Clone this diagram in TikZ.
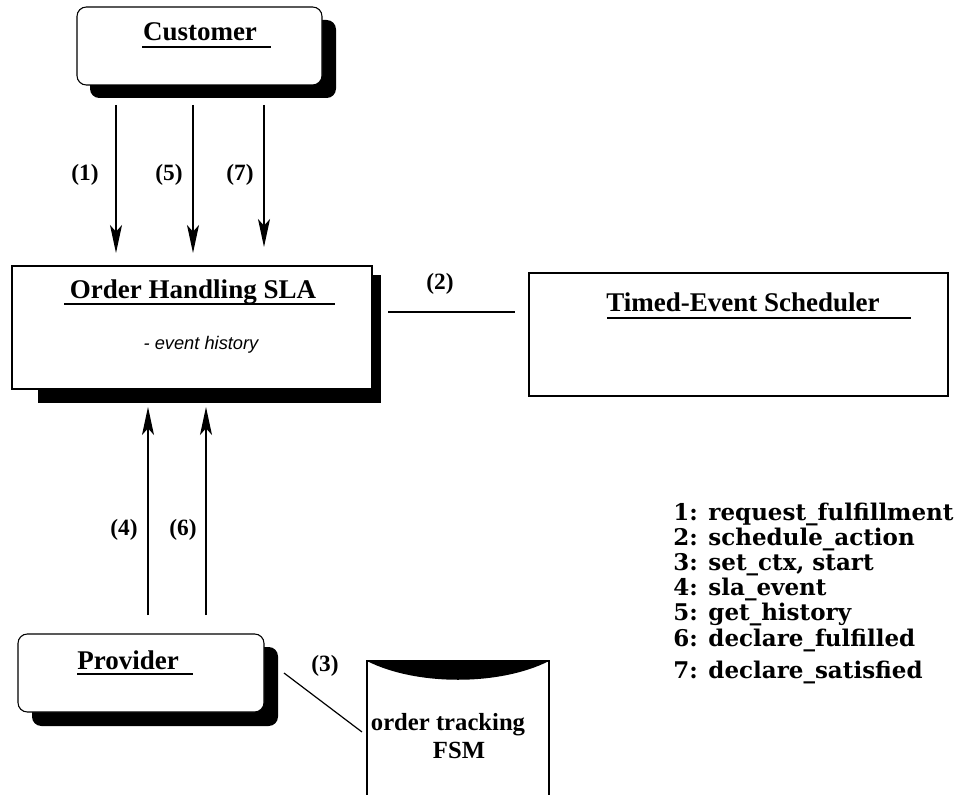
\documentclass[tikz,border=0pt]{standalone}
\usepackage{fontspec}
\setmainfont{Liberation Serif}
\newfontfamily\legfont{DejaVu Serif}
\newfontfamily\helv{Liberation Sans}
\usetikzlibrary{arrows.meta}
\begin{document}
\begin{tikzpicture}[x=0.75pt,y=-0.75pt,
  ttl/.style={font=\fontsize{20.25}{24}\selectfont\bfseries, inner sep=0pt},
  lbl/.style={font=\fontsize{17.5}{20}\selectfont\bfseries, inner sep=0pt},
  leg/.style={font=\legfont\fontsize{17.25}{20}\selectfont\bfseries, inner sep=0pt, anchor=base west},
  arr/.style={line width=0.9pt, -{Stealth[length=21pt,width=9pt,inset=5pt]}},
  ln/.style={line width=0.9pt},
  uline/.style={line width=1.1pt},
  box/.style={draw, line width=0.8pt, fill=white, inner sep=0pt},
]
\useasboundingbox (0,0) rectangle (964,795);

% Customer
\fill[rounded corners=7pt] (90,20) rectangle (336,98);
\node[box, rounded corners=7pt, minimum width=183.75pt, minimum height=58.5pt] (cust) at (199.5,46) {};
\node[ttl] (custt) at (200,32) {Customer};
\draw[uline] (142,47) -- (271,47);

% Order Handling SLA
\fill (38,275) rectangle (381,403);
\node[box, minimum width=270pt, minimum height=92.25pt] (sla) at (192,327.5) {};
\node[ttl] (slat) at (193,292) {Order Handling SLA};
\draw[uline] (64,304) -- (335,304);
\node[inner sep=0pt, font=\helv\itshape\fontsize{13.7}{16}\selectfont] (hist) at (201,345) {- event history};

% Timed-Event Scheduler
\node[box, minimum width=314.25pt, minimum height=92.25pt] (tes) at (738.5,334.5) {};
\node[ttl] (test) at (743,302) {Timed-Event Scheduler};
\draw[uline] (607,318) -- (911,318);

% Provider
\fill[rounded corners=7pt] (32,647) rectangle (278,726);
\node[box, rounded corners=7pt, minimum width=184.5pt, minimum height=58.5pt] (prov) at (141,673) {};
\node[ttl] (provt) at (128,660) {Provider};
\draw[uline] (77,674) -- (193,674);

% FSM document
\node[inner sep=0pt, minimum width=136.5pt, minimum height=100.5pt] (fsm) at (458,728) {};
\fill (367,661) -- (549,661) .. controls (500,686) and (416,686) .. (367,661) -- cycle;
\draw[line width=0.9pt] (367,795) -- (367,661) -- (549,661) -- (549,795);
\node[lbl, font=\fontsize{18.5}{20}\selectfont\bfseries] (fsmt1) at (448,725) {order tracking};
\node[lbl, font=\fontsize{18.5}{20}\selectfont\bfseries] (fsmt2) at (459,750) {FSM};

% connectors customer -> SLA
\coordinate (c1s) at (116,105); \coordinate (c1e) at (116,253);
\coordinate (c5s) at (193,105); \coordinate (c5e) at (193,253);
\coordinate (c7s) at (264,105); \coordinate (c7e) at (264,247);
\draw[arr] (c1s) -- (c1e);
\draw[arr] (c5s) -- (c5e);
\draw[arr] (c7s) -- (c7e);
\node[lbl] (l1) at (85,175) {(1)};
\node[lbl] (l5) at (169,175) {(5)};
\node[lbl] (l7) at (240,175) {(7)};

% SLA -- scheduler
\coordinate (c2s) at (388,312); \coordinate (c2e) at (515,312);
\draw[ln] (c2s) -- (c2e);
\node[lbl] (l2) at (440,284) {(2)};

% provider -> SLA
\coordinate (c4s) at (148,615); \coordinate (c4e) at (148,407);
\coordinate (c6s) at (206,615); \coordinate (c6e) at (206,407);
\draw[arr] (c4s) -- (c4e);
\draw[arr] (c6s) -- (c6e);
\node[lbl] (l4) at (124,530) {(4)};
\node[lbl] (l6) at (183,530) {(6)};

% provider -- FSM
\coordinate (c3s) at (284,673); \coordinate (c3e) at (362,732);
\draw[ln] (c3s) -- (c3e);
\node[lbl] (l3) at (325,666) {(3)};

% legend
\node[leg] (g1) at (673,520) {1: request\_fulfillment};
\node[leg] (g2) at (673,545) {2: schedule\_action};
\node[leg] (g3) at (673,570) {3: set\_ctx, start};
\node[leg] (g4) at (673,595) {4: sla\_event};
\node[leg] (g5) at (673,620) {5: get\_history};
\node[leg] (g6) at (673,646) {6: declare\_fulfilled};
\node[leg] (g7) at (673,678) {7: declare\_satisfied};
\end{tikzpicture}
\end{document}
